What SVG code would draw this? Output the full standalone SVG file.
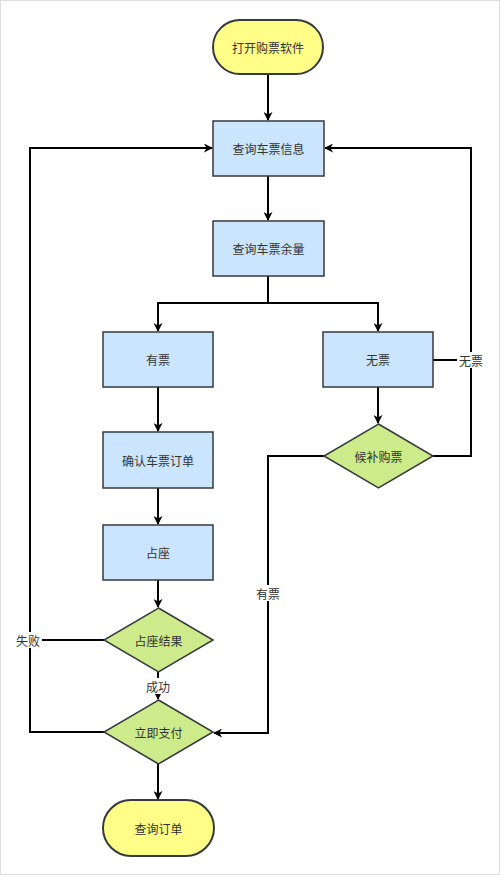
<svg xmlns="http://www.w3.org/2000/svg" width="500" height="875" viewBox="0 0 500 875">
<defs>
<marker id="arr" viewBox="0 0 10 10" refX="9" refY="5" markerWidth="9" markerHeight="9" markerUnits="userSpaceOnUse" orient="auto">
<path d="M0,0 L10,5 L0,10 L3,5 Z" fill="#000"/>
</marker>
<style>
.term{fill:#ffff88;stroke:#36393d;stroke-width:2}
.proc{fill:#cce5ff;stroke:#36393d;stroke-width:1.5}
.dec{fill:#cdeb8b;stroke:#36393d;stroke-width:1.5}
.t{font-family:"Noto Sans CJK SC","Liberation Sans",sans-serif;font-size:12px;fill:#333;text-anchor:middle;dominant-baseline:central}
.e{fill:none;stroke:#000;stroke-width:2}
.lbl{fill:#fff}
</style>
</defs>
<rect x="0.5" y="0.5" width="499" height="874" fill="#fff" stroke="#ddd"/>
<g id="connectors">
<path class="e" d="M268,74 V120" marker-end="url(#arr)"/>
<path class="e" d="M268,176 V220" marker-end="url(#arr)"/>
<path class="e" d="M268,276 V303 H158 V331" marker-end="url(#arr)"/>
<path class="e" d="M268,303 H378 V331" marker-end="url(#arr)"/>
<path class="e" d="M158,387 V431" marker-end="url(#arr)"/>
<path class="e" d="M158,488 V524" marker-end="url(#arr)"/>
<path class="e" d="M158,580 V607" marker-end="url(#arr)"/>
<path class="e" d="M158,672 V699" marker-end="url(#arr)"/>
<path class="e" d="M158,764 V799" marker-end="url(#arr)"/>
<path class="e" d="M378,387 V423" marker-end="url(#arr)"/>
<path class="e" d="M433,456 H471 V148 H325" marker-end="url(#arr)"/>
<path class="e" d="M433,360 H471"/>
<path class="e" d="M324,456 H268 V733 H214" marker-end="url(#arr)"/>
<path class="e" d="M104,640 H30"/>
<path class="e" d="M104,732 H30 V148 H212" marker-end="url(#arr)"/>
<rect class="lbl" x="457" y="352" width="28" height="16"/>
<text class="t" x="471" y="360">无票</text>
<rect class="lbl" x="254" y="585" width="28" height="16"/>
<text class="t" x="268" y="593">有票</text>
<rect class="lbl" x="14" y="632" width="28" height="16"/>
<text class="t" x="28" y="640">失败</text>
<rect class="lbl" x="144" y="678" width="28" height="16"/>
<text class="t" x="158" y="686">成功</text>
</g>
<g id="start"><rect class="term" x="213" y="20" width="110" height="54" rx="27" ry="27"/><text class="t" x="268" y="47">打开购票软件</text></g>
<g id="query_info"><rect class="proc" x="213" y="121" width="111" height="55"/><text class="t" x="268.5" y="148">查询车票信息</text></g>
<g id="query_remain"><rect class="proc" x="213" y="221" width="111" height="55"/><text class="t" x="268.5" y="248">查询车票余量</text></g>
<g id="has_ticket"><rect class="proc" x="103" y="332" width="110" height="55"/><text class="t" x="158" y="359">有票</text></g>
<g id="no_ticket"><rect class="proc" x="323" y="332" width="110" height="55"/><text class="t" x="378" y="359">无票</text></g>
<g id="confirm"><rect class="proc" x="103" y="432" width="110" height="56"/><text class="t" x="158" y="460">确认车票订单</text></g>
<g id="seat"><rect class="proc" x="103" y="525" width="110" height="55"/><text class="t" x="158" y="552">占座</text></g>
<g id="seat_result"><polygon class="dec" points="158.5,608 213,640 158.5,672 104,640"/><text class="t" x="158.5" y="640">占座结果</text></g>
<g id="waitlist"><polygon class="dec" points="378.5,424 433,456 378.5,488 324,456"/><text class="t" x="378.5" y="456">候补购票</text></g>
<g id="pay"><polygon class="dec" points="158.5,700 213,732 158.5,764 104,732"/><text class="t" x="158.5" y="732">立即支付</text></g>
<g id="end"><rect class="term" x="103" y="800" width="111" height="56" rx="28" ry="28"/><text class="t" x="158.5" y="828">查询订单</text></g>
</svg>
